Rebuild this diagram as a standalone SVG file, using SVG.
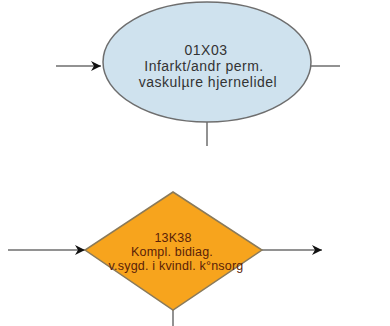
<svg xmlns="http://www.w3.org/2000/svg" width="390" height="326" viewBox="0 0 390 326">
<style>
.ln{stroke:#6e6e6e;stroke-width:1.5;fill:none}
.t1{font-family:"Liberation Sans",Arial,sans-serif;font-size:14px;letter-spacing:0.5px;fill:#333;text-anchor:middle}
.t2{font-family:"Liberation Sans",Arial,sans-serif;font-size:12.5px;letter-spacing:0.2px;fill:#5a2208;text-anchor:middle}
</style>
<defs>
<marker id="ah" viewBox="0 0 10 10" refX="10" refY="5" markerWidth="12" markerHeight="10" markerUnits="userSpaceOnUse" orient="auto">
<path d="M0,0 L10,5 L0,10 L3,5 z" fill="#111"/>
</marker>
</defs>
<rect width="390" height="326" fill="#fff"/>
<g id="connectors">
<line class="ln" x1="56" y1="66" x2="101" y2="66" marker-end="url(#ah)"/>
<line class="ln" x1="311" y1="66" x2="340" y2="66"/>
<line class="ln" x1="207" y1="122" x2="207" y2="146"/>
<line class="ln" x1="8" y1="250" x2="85" y2="250" marker-end="url(#ah)"/>
<line class="ln" x1="262" y1="250" x2="322" y2="250" marker-end="url(#ah)"/>
<line class="ln" x1="173" y1="310" x2="173" y2="326"/>
</g>
<g id="node-01X03">
<ellipse cx="207" cy="62" rx="104" ry="60" fill="#cfe2ee" stroke="#6e6e6e" stroke-width="1.5"/>
<text class="t1" x="206" y="55">01X03</text>
<text class="t1" x="204" y="71">Infarkt/andr perm.</text>
<text class="t1" x="208" y="87">vaskulµre hjernelidel</text>
</g>
<g id="node-13K38">
<polygon points="173,192 262,250 173,310 85,250" fill="#f7a41d" stroke="#8a7a5a" stroke-width="1.5"/>
<text class="t2" x="173" y="242">13K38</text>
<text class="t2" x="172" y="256">Kompl. bidiag.</text>
<text class="t2" x="176" y="270">v.sygd. i kvindl. k°nsorg</text>
</g>
</svg>
